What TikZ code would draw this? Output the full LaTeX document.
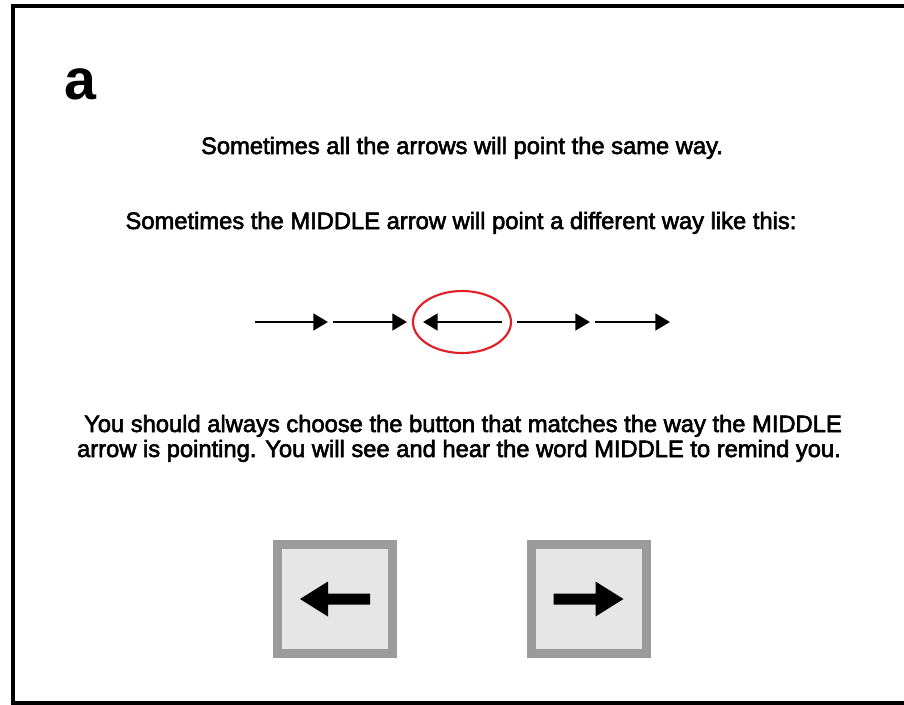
\documentclass[tikz,border=0pt]{standalone}
\usepackage{fontspec}
\setmainfont{Liberation Sans}
\newfontfamily\medfont[FakeBold=2.5]{Liberation Sans}
\usetikzlibrary{arrows.meta}
\definecolor{ringred}{RGB}{224,32,38}
\definecolor{btnedge}{RGB}{155,155,155}
\definecolor{btnface}{RGB}{230,230,230}

\tikzset{
  prompt/.style={anchor=base, inner sep=0.75pt, font=\medfont\fontsize{17.8}{20}\selectfont},
  flank/.style={line width=2pt, -{Triangle[length=11pt, width=12.5pt]}},
  button/.style={draw=btnedge, fill=btnface, line width=6.75pt, minimum width=86.25pt, minimum height=81.75pt, inner sep=0pt},
}

\begin{document}
\begin{tikzpicture}[x=0.75pt,y=0.75pt,yscale=-1,xscale=1]
\useasboundingbox (0,0) rectangle (904,704);
\clip (0,0) rectangle (904,704);
% frame
\draw[line width=3.4pt] (13,6) rectangle (960,703);
\node[anchor=base west, inner sep=0pt, font=\bfseries\fontsize{43}{43}\selectfont] (tag) at (64,99) {a};
% instructions
\node[prompt] (line1) at (462,154) {Sometimes all the arrows will point the same way.};
\node[prompt] (line2) at (461,229) {Sometimes the MIDDLE arrow will point a different way like this:};
\node[prompt] (line3) at (463,432) {You should always choose the button that matches the way the MIDDLE};
\node[prompt] (line4) at (459,457) {arrow is pointing. You will see and hear the word MIDDLE to remind you.};
% flanker row
\foreach \s/\e in {255/328, 333/407, 517/590, 595/670}
  \draw[flank] (\s,322) -- (\e,322);
\draw[flank] (502,322) -- (423,322);
\draw[ringred, line width=1.6pt] (462,322) ellipse [x radius=49, y radius=31];
% response buttons
\node[button] (left) at (335,599) {};
\node[button] (right) at (588.5,599) {};
\foreach \b/\d in {left/-1, right/1}
  \fill[shift={(\b.center)}, xscale=\d] (-35,-5.5) -- (7,-5.5) -- (7,-17.5) -- (35,0) -- (7,17.5) -- (7,5.5) -- (-35,5.5) -- cycle;
\end{tikzpicture}
\end{document}
